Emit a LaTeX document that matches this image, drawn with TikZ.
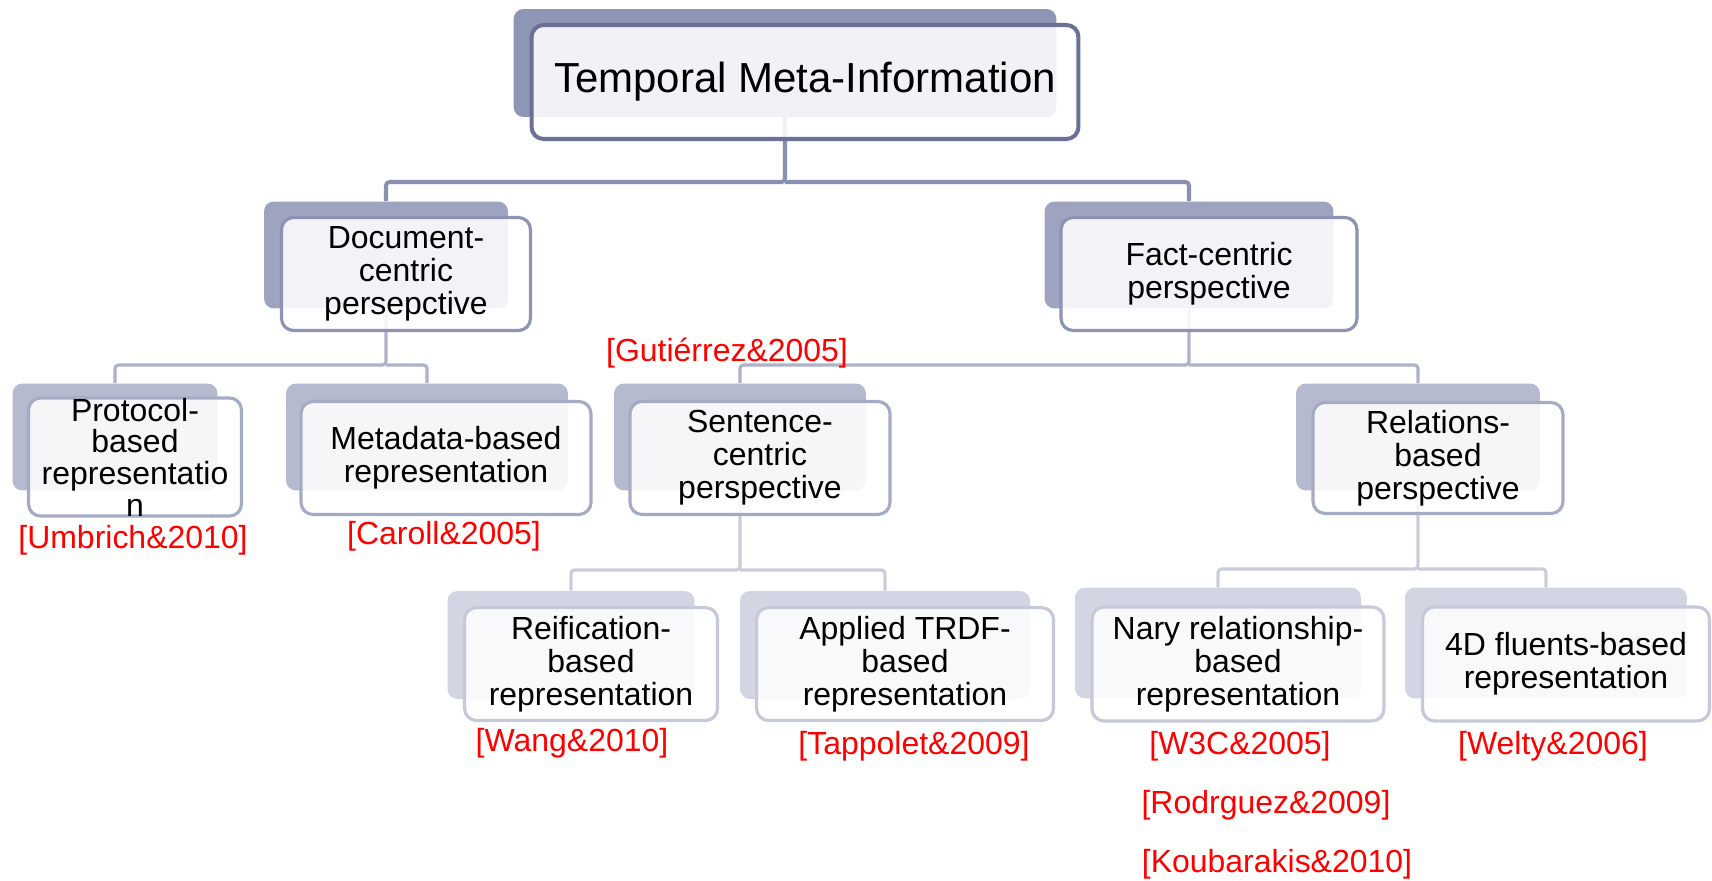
\documentclass[tikz,border=0pt]{standalone}
\usepackage{fontspec}
\setmainfont{Liberation Sans}
\definecolor{shA}{HTML}{8E96B5}
\definecolor{bdA}{HTML}{6A7195}
\definecolor{lnA}{HTML}{8A91B0}
\definecolor{shB}{HTML}{9EA4C0}
\definecolor{bdB}{HTML}{8D93B3}
\definecolor{lnB}{HTML}{ADB2C9}
\definecolor{shC}{HTML}{B6BACF}
\definecolor{bdC}{HTML}{A6ABC4}
\definecolor{lnC}{HTML}{C9CCDB}
\definecolor{shD}{HTML}{D2D5E2}
\definecolor{bdD}{HTML}{C6C9D8}
\begin{document}
\begin{tikzpicture}[x=0.02cm, y=0.02cm]
            \tikzset{every node/.append style={inner sep=0pt},
              back/.style={rounded corners=0.2cm},
              front/.style={rounded corners=0.24cm, fill=white, fill opacity=0.88,
                text opacity=1, align=center,
                font=\fontsize{18.2}{18.8}\selectfont},
              link/.style={line width=1.8pt, rounded corners=2pt},
              cite/.style={text=red, font=\fontsize{18.2}{18.8}\selectfont}}
            \useasboundingbox (0,0) rectangle (1712,-880);
            % junctions of the connectors
            \coordinate (j1) at (785,-182);
            \coordinate (j2) at (386,-365);
            \coordinate (j3) at (1189,-365);
            \coordinate (j4) at (740,-570);
            \coordinate (j5) at (1418,-569);
            % back plates
            \node [back, fill=shA, minimum width=10.86cm, minimum height=2.16cm] (tmi-bg) at (785,-63) {};
            \node [back, fill=shB, minimum width=4.88cm, minimum height=2.14cm] (doc-bg) at (386,-255) {};
            \node [back, fill=shB, minimum width=5.78cm, minimum height=2.14cm] (fact-bg) at (1189,-255) {};
            \node [back, fill=shC, minimum width=4.10cm, minimum height=2.14cm] (proto-bg) at (115,-437) {};
            \node [back, fill=shC, minimum width=5.64cm, minimum height=2.14cm] (meta-bg) at (427,-437) {};
            \node [back, fill=shC, minimum width=5.04cm, minimum height=2.14cm] (sent-bg) at (740,-437) {};
            \node [back, fill=shC, minimum width=4.88cm, minimum height=2.14cm] (rel-bg) at (1418,-437) {};
            \node [back, fill=shD, minimum width=4.94cm, minimum height=2.16cm] (reif-bg) at (571,-645) {};
            \node [back, fill=shD, minimum width=5.80cm, minimum height=2.16cm] (appl-bg) at (885,-645) {};
            \node [back, fill=shD, minimum width=5.72cm, minimum height=2.22cm] (nary-bg) at (1218,-643) {};
            \node [back, fill=shD, minimum width=5.64cm, minimum height=2.22cm] (fourd-bg) at (1546,-643) {};
            % connectors
            \draw [link, lnA, line width=2.3pt] (tmi-bg) -- (j1) -| (doc-bg);
            \draw [link, lnA, line width=2.3pt] (j1) -| (fact-bg);
            \draw [link, lnB] (doc-bg) -- (j2) -| (proto-bg);
            \draw [link, lnB] (j2) -| (meta-bg);
            \draw [link, lnB] (fact-bg) -- (j3) -| (sent-bg);
            \draw [link, lnB] (j3) -| (rel-bg);
            \draw [link, lnC] (sent-bg) -- (j4) -| (reif-bg);
            \draw [link, lnC] (j4) -| (appl-bg);
            \draw [link, lnC] (rel-bg) -- (j5) -| (nary-bg);
            \draw [link, lnC] (j5) -| (fourd-bg);
            % front boxes
            \node [front, draw=bdA, line width=2.3pt, minimum width=10.94cm, minimum height=2.28cm,
              font=\fontsize{23.9}{24.5}\selectfont] (tmi) at (805,-82) {Temporal Meta-Information};
            \node [front, draw=bdB, line width=1.8pt, minimum width=4.98cm, minimum height=2.26cm] (doc) at (406,-274) {Document-\\centric\\persepctive};
            \node [front, draw=bdB, line width=1.8pt, minimum width=5.92cm, minimum height=2.26cm] (fact) at (1209,-274) {Fact-centric\\perspective};
            \node [front, draw=bdC, line width=1.8pt, minimum width=4.26cm, minimum height=2.26cm,
              font=\fontsize{18.2}{18}\selectfont] (proto) at (135,-457) {Protocol-\\based\\representatio\\n};
            \node [front, draw=bdC, line width=1.8pt, minimum width=5.80cm, minimum height=2.26cm] (meta) at (446,-458) {Metadata-based\\representation};
            \node [front, draw=bdC, line width=1.8pt, minimum width=5.20cm, minimum height=2.26cm] (sent) at (760,-458) {Sentence-\\centric\\perspective};
            \node [front, draw=bdC, line width=1.8pt, minimum width=5.00cm, minimum height=2.22cm] (rel) at (1438,-458) {Relations-\\based\\perspective};
            \node [front, draw=bdD, line width=1.8pt, minimum width=5.06cm, minimum height=2.26cm] (reif) at (591,-664) {Reification-\\based\\representation};
            \node [front, draw=bdD, line width=1.8pt, minimum width=5.94cm, minimum height=2.26cm] (appl) at (905,-664) {Applied TRDF-\\based\\representation};
            \node [front, draw=bdD, line width=1.8pt, minimum width=5.84cm, minimum height=2.28cm] (nary) at (1238,-664) {Nary relationship-\\based\\representation};
            \node [front, draw=bdD, line width=1.8pt, minimum width=5.74cm, minimum height=2.28cm] (fourd) at (1566,-664) {4D fluents-based\\representation};
            % references
            \node [cite] (gutierrez) at (727,-353) {[Gutiérrez\&2005]};
            \node [cite] (umbrich) at (133,-540) {[Umbrich\&2010]};
            \node [cite] (caroll) at (444,-536) {[Caroll\&2005]};
            \node [cite] (wang) at (572,-743) {[Wang\&2010]};
            \node [cite] (tappolet) at (914,-746) {[Tappolet\&2009]};
            \node [cite] (wthreec) at (1240,-746) {[W3C\&2005]};
            \node [cite] (rodrguez) at (1266,-805) {[Rodrguez\&2009]};
            \node [cite] (koubarakis) at (1277,-864) {[Koubarakis\&2010]};
            \node [cite] (welty) at (1553,-746) {[Welty\&2006]};
        \end{tikzpicture}
\end{document}
